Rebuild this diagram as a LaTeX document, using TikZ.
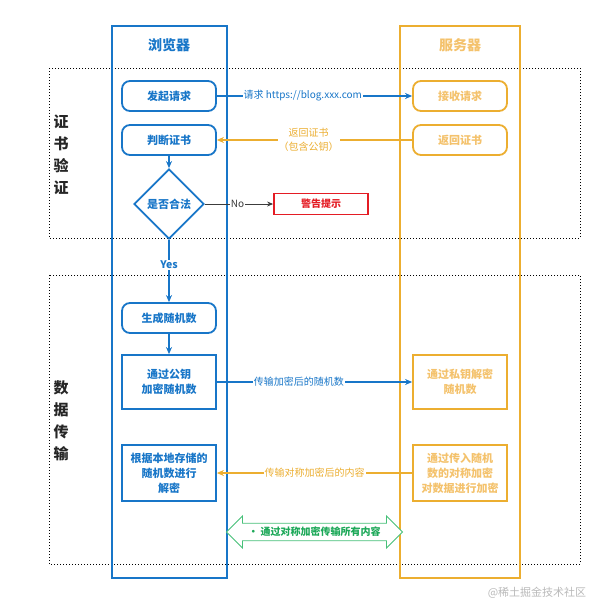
\documentclass[tikz,border=0pt]{standalone}
\usepackage{fontspec}
\setmainfont{Noto Sans CJK SC}
\usetikzlibrary{arrows.meta,shapes.geometric,shapes.arrows}
\definecolor{cblue}{RGB}{24,118,200}
\definecolor{corange}{RGB}{236,174,48}
\definecolor{corangetxt}{RGB}{244,194,108}
\definecolor{cred}{RGB}{228,28,36}
\definecolor{cgreen}{RGB}{28,168,88}
\definecolor{cgreenline}{RGB}{70,192,120}
\definecolor{cgray}{RGB}{60,60,60}
\begin{document}
\begin{tikzpicture}[x=1pt,y=-1pt,
  lane/.style={draw,line width=2pt},
  zone/.style={draw=black,dotted,line width=1pt},
  bstep/.style={draw=cblue,line width=1.8pt,fill=white,text=cblue,font=\bfseries\fontsize{11}{15}\selectfont,minimum width=94pt,align=center,inner sep=1pt},
  brnd/.style={bstep,rounded corners=8pt,minimum height=30pt},
  ostep/.style={draw=corange,line width=1.8pt,fill=white,text=corangetxt,font=\bfseries\fontsize{11}{15}\selectfont,minimum width=94pt,align=center,inner sep=1pt},
  ornd/.style={ostep,rounded corners=8pt,minimum height=30pt},
  barrow/.style={draw=cblue,line width=1.8pt,-{Stealth[length=7pt,width=6pt]}},
  oarrow/.style={draw=corange,line width=1.8pt,-{Stealth[length=7pt,width=6pt]}},
  blabel/.style={fill=white,text=cblue,font=\fontsize{10}{12}\selectfont,inner sep=1pt},
  olabel/.style={fill=white,text=corange,font=\fontsize{10}{14}\selectfont,inner sep=1pt,align=center},
  side/.style={font=\bfseries\fontsize{15}{22}\selectfont,align=center,text=black!85}
]
\useasboundingbox (0,0) rectangle (598,605);
% zones
\draw[zone] (49,68) rectangle (580,238);
\draw[zone] (49,275) rectangle (580,564);
\node[side] (sz1) at (61,155) {证\\书\\验\\证};
\node[side] (sz2) at (61,421) {数\\据\\传\\输};
% lanes
\draw[lane,draw=cblue] (112,26) rectangle (227,578);
\draw[lane,draw=corange] (400,26) rectangle (520,578);
\node[text=cblue,font=\bfseries\fontsize{14}{16}\selectfont] (tb) at (169,45) {浏览器};
\node[text=corangetxt,font=\bfseries\fontsize{14}{16}\selectfont] (ts) at (460,45) {服务器};
% browser steps
\node[brnd] (req) at (169,96) {发起请求};
\node[brnd] (chk) at (169,140) {判断证书};
\node[diamond,draw=cblue,line width=1.8pt,text=cblue,font=\bfseries\fontsize{11}{13}\selectfont,minimum width=70pt,minimum height=70pt,inner sep=0pt] (legal) at (169,204) {是否合法};
\node[draw=cred,line width=1.8pt,text=cred,font=\bfseries\fontsize{10}{12}\selectfont,minimum width=94pt,minimum height=21pt,inner sep=1pt] (warn) at (321,204) {警告提示};
\node[brnd] (gen) at (169,318) {生成随机数};
\node[bstep,minimum height=54pt] (enc) at (169,382) {通过公钥\\加密随机数};
\node[bstep,minimum height=56pt] (dec) at (169,473) {根据本地存储的\\随机数进行\\解密};
% server steps
\node[ornd] (recv) at (460,96) {接收请求};
\node[ornd] (ret) at (460,140) {返回证书};
\node[ostep,minimum height=54pt] (sdec) at (460,382) {通过私钥解密\\随机数};
\node[ostep,minimum height=56pt] (senc) at (460,473) {通过传入随机\\数的对称加密\\对数据进行加密};
% connectors
\draw[barrow] (req) -- node[blabel,pos=0.44] {请求 https://blog.xxx.com} (recv);
\draw[oarrow] (ret) -- node[olabel,pos=0.53] {返回证书\\（包含公钥）} (chk);
\draw[barrow] (chk) -- (legal);
\draw[draw=cgray,line width=0.8pt,-{Stealth[length=6pt,width=5pt]}] (legal) -- node[fill=white,text=cgray,font=\fontsize{10}{12}\selectfont,inner sep=1pt,pos=0.48] {No} (warn);
\draw[barrow] (legal) -- node[fill=white,text=cblue,font=\bfseries\fontsize{10.5}{12}\selectfont,inner sep=1pt,pos=0.4] {Yes} (gen);
\draw[barrow] (gen) -- (enc);
\draw[barrow] (enc) -- node[blabel,pos=0.42] {传输加密后的随机数} (sdec);
\draw[oarrow] (senc) -- node[olabel,pos=0.5] {传输对称加密后的内容} (dec);
% green double arrow
\node[double arrow,draw=cgreenline,line width=0.9pt,fill=white,minimum height=176pt,minimum width=32pt,double arrow head extend=6pt,inner sep=2pt,text=cgreen,font=\bfseries\fontsize{10}{12}\selectfont] (all) at (314.5,532) {\textbullet\ 通过对称加密传输所有内容};
% watermark
\node[text=gray!55,font=\fontsize{11}{13}\selectfont] (wm) at (537,593) {@稀土掘金技术社区};
\end{tikzpicture}
\end{document}
